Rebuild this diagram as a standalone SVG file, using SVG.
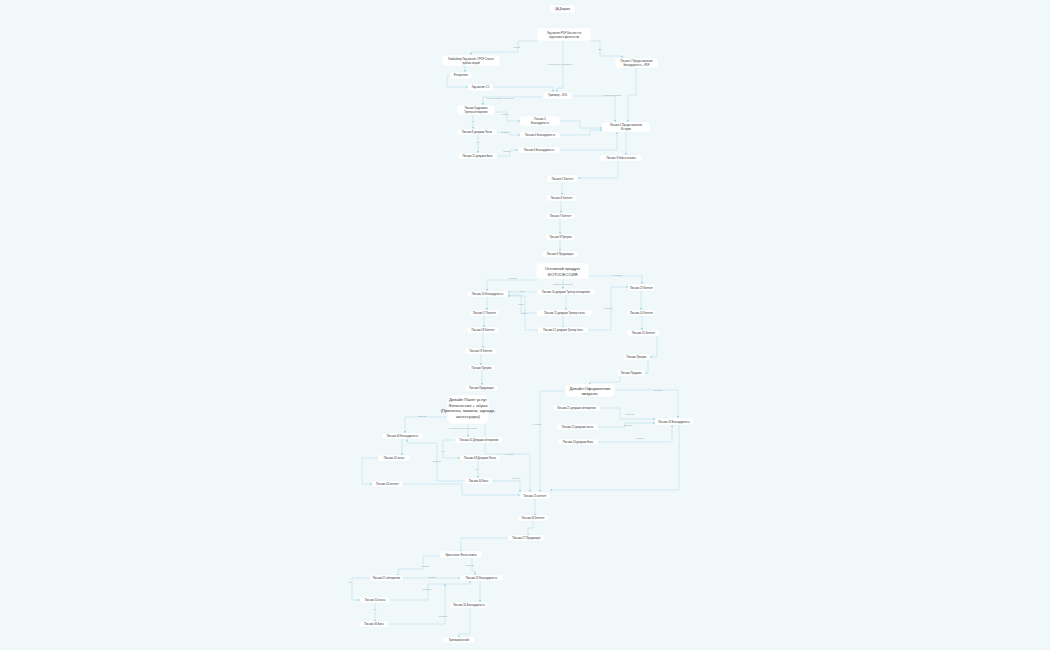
<svg xmlns="http://www.w3.org/2000/svg" width="1050" height="650" viewBox="0 0 1050 650">
<style>
.bg{fill:#f0f8fa}
.n rect{fill:#ffffff;stroke:#e6f2f6;stroke-width:0.3}
.n text{font-family:"Liberation Sans","Noto Sans",sans-serif;font-size:2.6px;fill:#333;text-anchor:middle}
.n.big text{font-size:4.2px;fill:#333}
.n.mid text{font-size:3.2px}
.e path{fill:none;stroke:#aedde9;stroke-width:0.5;marker-end:url(#a)}
.lb{font-family:"Liberation Sans","Noto Sans",sans-serif;font-size:2.1px;fill:#8a9aa0;text-anchor:middle}
</style>
<defs>
<marker id="a" viewBox="0 0 6 6" refX="5.5" refY="3" markerWidth="2.6" markerHeight="2.6" orient="auto" markerUnits="userSpaceOnUse"><path d="M0,0 L6,3 L0,6 z" fill="#9fd6e4"/></marker>
</defs>
<rect class="bg" x="0" y="0" width="1050" height="650"/>
<g id="connectors" class="e">
<path d="M538,41 H518 V52 H471 V55"/>
<path d="M591,41 H600 V56 H622 V58"/>
<path d="M563,41 V88 H557 V92"/>
<path d="M465,66 V72"/>
<path d="M450,76 H447 V87 H468"/>
<path d="M493,87 H553 V92"/>
<path d="M636,68 V95 H628 V122"/>
<path d="M572,96 H615 V122"/>
<path d="M543,97 H483 V105"/>
<path d="M495,112 H507 V121 H520"/>
<path d="M473,115 V129"/>
<path d="M497,132 H510 V135 H520"/>
<path d="M478,135 V153"/>
<path d="M497,156 H510 V150 H518"/>
<path d="M560,121 H580 V128 H602"/>
<path d="M560,135 H590 V130 H602"/>
<path d="M560,150 H617 V132"/>
<path d="M626,132 V155"/>
<path d="M618,161 V178 H578"/>
<path d="M562,182 V195"/>
<path d="M561,201 V213"/>
<path d="M560,219 V234"/>
<path d="M560,240 V251"/>
<path d="M537,280 H487 V291"/>
<path d="M563,279 V289"/>
<path d="M588,276 H642 V284"/>
<path d="M537,292 H508"/>
<path d="M537,313 H521 V295 H508"/>
<path d="M538,330 H525 V296 H508"/>
<path d="M566,295 V310"/>
<path d="M563,316 V328"/>
<path d="M588,330 H611 V287 H628"/>
<path d="M487,297 V310"/>
<path d="M484,316 V327"/>
<path d="M483,333 V348"/>
<path d="M481,354 V365"/>
<path d="M482,370 V385"/>
<path d="M641,291 V310"/>
<path d="M642,315 V330"/>
<path d="M657,336 V357 H650"/>
<path d="M648,360 V373 H645"/>
<path d="M620,376 V382 H590 V385"/>
<path d="M615,390 H678 V418"/>
<path d="M565,391 H540 V492"/>
<path d="M600,408 H620 V419 H655"/>
<path d="M598,427 H625 V423 H655"/>
<path d="M598,442 H672 V425"/>
<path d="M679,425 V490 H550"/>
<path d="M447,417 H405 V433"/>
<path d="M468,424 V437"/>
<path d="M485,424 V454 H530 V492"/>
<path d="M455,440 H443 V458 H460"/>
<path d="M478,461 V478"/>
<path d="M465,481 H437 V443 H407 V439"/>
<path d="M492,481 H520 V492"/>
<path d="M402,439 V455"/>
<path d="M378,458 H362 V484 H372"/>
<path d="M403,484 H462 V495 H520"/>
<path d="M535,499 V516"/>
<path d="M533,521 V528 H528 V536"/>
<path d="M508,538 H461 V552"/>
<path d="M440,556 H423 V569 H398 V576"/>
<path d="M472,558 V571 H475 V575"/>
<path d="M403,578 H460"/>
<path d="M370,578 H352 V600 H360"/>
<path d="M375,602 V622"/>
<path d="M390,600 H428 V584 H470 V581"/>
<path d="M388,624 H445 V584"/>
<path d="M480,581 V602"/>
<path d="M470,608 V634 H459 V638"/>
</g>
<g id="labels">
<text class="lb" x="517" y="48">Скачал</text>
<text class="lb" x="600" y="50">Да</text>
<text class="lb" x="560" y="65">Не скачал/Не подписался</text>
<text class="lb" x="500" y="99">Не было покупок, не открыл</text>
<text class="lb" x="612" y="96">Не купил трипваер</text>
<text class="lb" x="505" y="115">Открыл</text>
<text class="lb" x="473" y="122">Нет</text>
<text class="lb" x="505" y="133">Открыл</text>
<text class="lb" x="478" y="143">Нет</text>
<text class="lb" x="507" y="152">Открыл</text>
<text class="lb" x="513" y="279">Оплатил</text>
<text class="lb" x="563" y="285">Заявка не оплачена</text>
<text class="lb" x="617" y="276">Не купил</text>
<text class="lb" x="522" y="292">Купил</text>
<text class="lb" x="521" y="305">Купил</text>
<text class="lb" x="524" y="314">Купил</text>
<text class="lb" x="608" y="309">Не купил</text>
<text class="lb" x="658" y="391">Оплатил</text>
<text class="lb" x="537" y="425">Не купил</text>
<text class="lb" x="630" y="415">Оплатил</text>
<text class="lb" x="628" y="426">Оплатил</text>
<text class="lb" x="640" y="439">Оплатил</text>
<text class="lb" x="422" y="417">Оплатил</text>
<text class="lb" x="463" y="429">Не было оплаты, не оплатил</text>
<text class="lb" x="443" y="452">Нет</text>
<text class="lb" x="437" y="462">Оплатил</text>
<text class="lb" x="509" y="455">Не купил</text>
<text class="lb" x="477" y="470">Нет</text>
<text class="lb" x="516" y="479">Не купил</text>
<text class="lb" x="425" y="567">Не купил</text>
<text class="lb" x="470" y="566">Оплатил</text>
<text class="lb" x="432" y="578">Оплатил</text>
<text class="lb" x="350" y="583">Нет</text>
<text class="lb" x="427" y="590">Оплатил</text>
<text class="lb" x="375" y="610">Нет</text>
<text class="lb" x="443" y="617">Оплатил</text>
</g>
<g id="n1" class="n"><rect x="550" y="5" width="25" height="8" rx="2"/><text x="562.5" y="10">ЦА Девушки</text></g>
<g id="n2" class="n"><rect x="537" y="28" width="54" height="13" rx="3"/><text x="564" y="33.5">Лид магнит PDF Чек-лист по</text><text x="564" y="37.5">подготовке к фотосессии</text></g>
<g id="n3" class="n"><rect x="442" y="55" width="58" height="11" rx="3"/><text x="471" y="59.5">Комбайнер Лид-магнит 2 PDF Список</text><text x="471" y="63.5">нужных вещей</text></g>
<g id="n4" class="n"><rect x="450" y="72" width="22" height="7" rx="2"/><text x="461" y="76.3">Ретаргетинг</text></g>
<g id="n5" class="n"><rect x="468" y="84" width="25" height="7" rx="2"/><text x="480.5" y="88.3">Лид-магнит 2.1</text></g>
<g id="n6" class="n"><rect x="615" y="58" width="43" height="10" rx="3"/><text x="636.5" y="62">Письмо 1 Предоставление</text><text x="636.5" y="66">Благодарность + PDF</text></g>
<g id="n7" class="n"><rect x="543" y="92" width="29" height="7" rx="2"/><text x="557.5" y="96.3">Трипваер - 50%</text></g>
<g id="n8" class="n"><rect x="457" y="105" width="38" height="10" rx="3"/><text x="476" y="109">Письмо Кадровика</text><text x="476" y="113">Тренер обтворение</text></g>
<g id="n9" class="n"><rect x="520" y="116" width="40" height="10" rx="3"/><text x="540" y="120">Письмо 4</text><text x="540" y="124">Благодарность</text></g>
<g id="n10" class="n"><rect x="602" y="122" width="48" height="10" rx="3"/><text x="626" y="126">Письмо 2 Предоставление</text><text x="626" y="130">История</text></g>
<g id="n11" class="n"><rect x="457" y="129" width="40" height="6" rx="2"/><text x="477" y="133">Письмо 8 девушки Лоска</text></g>
<g id="n12" class="n"><rect x="520" y="132" width="40" height="6" rx="2"/><text x="540" y="136">Письмо 4 Благодарность</text></g>
<g id="n13" class="n"><rect x="458" y="153" width="39" height="6" rx="2"/><text x="477.5" y="157">Письмо 11 девушки Боль</text></g>
<g id="n14" class="n"><rect x="518" y="147" width="42" height="6" rx="2"/><text x="539" y="151">Письмо 6 Благодарность</text></g>
<g id="n15" class="n"><rect x="600" y="155" width="42" height="6" rx="2"/><text x="621" y="159">Письмо 3 Кейсы отзывы</text></g>
<g id="n16" class="n"><rect x="547" y="175" width="31" height="7" rx="2"/><text x="562.5" y="179.5">Письмо 5 Контент</text></g>
<g id="n17" class="n"><rect x="546" y="195" width="31" height="6" rx="2"/><text x="561.5" y="199">Письмо 6 Контент</text></g>
<g id="n18" class="n"><rect x="546" y="213" width="29" height="6" rx="2"/><text x="560.5" y="217">Письмо 7 Контент</text></g>
<g id="n19" class="n"><rect x="546" y="234" width="29" height="6" rx="2"/><text x="560.5" y="238">Письмо 8 Прогрев</text></g>
<g id="n20" class="n"><rect x="542" y="251" width="36" height="6" rx="2"/><text x="560" y="255">Письмо 9 Продающее</text></g>
<g id="n21" class="n big"><rect x="536" y="263" width="53" height="16" rx="4"/><text x="562.5" y="270">Основной продукт</text><text x="562.5" y="275.5">ФОТОСЕССИЯ</text></g>
<g id="n22" class="n"><rect x="467" y="291" width="41" height="6" rx="2"/><text x="487.5" y="295">Письмо 10 Благодарность</text></g>
<g id="n23" class="n"><rect x="537" y="289" width="58" height="6" rx="2"/><text x="566" y="293">Письмо 10 девушки Тренер обтворение</text></g>
<g id="n24" class="n"><rect x="628" y="284" width="27" height="7" rx="2"/><text x="641.5" y="288.5">Письмо 13 Контент</text></g>
<g id="n25" class="n"><rect x="470" y="310" width="29" height="6" rx="2"/><text x="484.5" y="314">Письмо 17 Контент</text></g>
<g id="n26" class="n"><rect x="537" y="310" width="55" height="6" rx="2"/><text x="564.5" y="314">Письмо 11 девушки Тренер лоска</text></g>
<g id="n27" class="n"><rect x="628" y="310" width="27" height="6" rx="2"/><text x="641.5" y="314">Письмо 14 Контент</text></g>
<g id="n28" class="n"><rect x="467" y="327" width="32" height="6" rx="2"/><text x="483" y="331">Письмо 18 Контент</text></g>
<g id="n29" class="n"><rect x="538" y="327" width="50" height="6" rx="2"/><text x="563" y="331">Письмо 12 девушки Тренер боль</text></g>
<g id="n30" class="n"><rect x="627" y="330" width="33" height="6" rx="2"/><text x="643.5" y="334">Письмо 15 Контент</text></g>
<g id="n31" class="n"><rect x="465" y="348" width="32" height="6" rx="2"/><text x="481" y="352">Письмо 19 Контент</text></g>
<g id="n32" class="n"><rect x="468" y="365" width="27" height="5" rx="2"/><text x="481.5" y="368.5">Письмо Прогрев</text></g>
<g id="n33" class="n"><rect x="465" y="385" width="33" height="6" rx="2"/><text x="481.5" y="389">Письмо Продающее</text></g>
<g id="n34" class="n"><rect x="623" y="354" width="27" height="6" rx="2"/><text x="636.5" y="358">Письмо Прогрев</text></g>
<g id="n35" class="n"><rect x="617" y="370" width="28" height="6" rx="2"/><text x="631" y="374">Письмо Продажа</text></g>
<g id="n36" class="n big"><rect x="565" y="384" width="50" height="13" rx="4"/><text x="590" y="389.5">Дизайн Оформление</text><text x="590" y="394.5">визуала.</text></g>
<g id="n37" class="n"><rect x="553" y="405" width="47" height="6" rx="2"/><text x="576.5" y="409">Письмо 21 девушки обтворение</text></g>
<g id="n38" class="n"><rect x="557" y="424" width="41" height="6" rx="2"/><text x="577.5" y="428">Письмо 22 девушки лоска</text></g>
<g id="n39" class="n"><rect x="655" y="418" width="38" height="7" rx="2"/><text x="674" y="422.5">Письмо 23 Благодарность</text></g>
<g id="n40" class="n"><rect x="558" y="439" width="40" height="6" rx="2"/><text x="578" y="443">Письмо 24 девушки Боль</text></g>
<g id="n41" class="n big"><rect x="447" y="395" width="42" height="29" rx="6"/><text x="468" y="401">Дизайн Пакет услуг</text><text x="468" y="406.5">Фотосессия + образ</text><text x="468" y="412">(Прическа, макияж, одежда,</text><text x="468" y="417.5">аксессуары)</text></g>
<g id="n42" class="n"><rect x="382" y="433" width="41" height="6" rx="2"/><text x="402.5" y="437">Письмо 40 Благодарность</text></g>
<g id="n43" class="n"><rect x="455" y="437" width="48" height="6" rx="2"/><text x="479" y="441">Письмо 41 Девушки обтворение</text></g>
<g id="n44" class="n"><rect x="378" y="455" width="32" height="6" rx="2"/><text x="394" y="459">Письмо 42 лоска</text></g>
<g id="n45" class="n"><rect x="460" y="455" width="40" height="6" rx="2"/><text x="480" y="459">Письмо 43 Девушки Лоска</text></g>
<g id="n46" class="n"><rect x="465" y="478" width="27" height="6" rx="2"/><text x="478.5" y="482">Письмо 44 Боль</text></g>
<g id="n47" class="n"><rect x="372" y="481" width="31" height="6" rx="2"/><text x="387.5" y="485">Письмо 45 контент</text></g>
<g id="n48" class="n"><rect x="520" y="492" width="30" height="7" rx="2"/><text x="535" y="496.5">Письмо 25 контент</text></g>
<g id="n49" class="n"><rect x="518" y="515" width="30" height="6" rx="2"/><text x="533" y="519">Письмо 26 Контент</text></g>
<g id="n50" class="n"><rect x="508" y="535" width="37" height="6" rx="2"/><text x="526.5" y="539">Письмо 27 Продающее</text></g>
<g id="n51" class="n mid"><rect x="440" y="551" width="42" height="7" rx="2"/><text x="461" y="555.8">Кросселл Фото-книга</text></g>
<g id="n52" class="n"><rect x="370" y="575" width="33" height="6" rx="2"/><text x="386.5" y="579">Письмо 51 обтворение</text></g>
<g id="n53" class="n"><rect x="460" y="575" width="43" height="6" rx="2"/><text x="481.5" y="579">Письмо 52 Благодарность</text></g>
<g id="n54" class="n"><rect x="360" y="597" width="30" height="6" rx="2"/><text x="375" y="601">Письмо 54 лоска</text></g>
<g id="n55" class="n"><rect x="450" y="602" width="38" height="6" rx="2"/><text x="469" y="606">Письмо 55 Благодарность</text></g>
<g id="n56" class="n"><rect x="360" y="621" width="28" height="6" rx="2"/><text x="374" y="625">Письмо 56 Боль</text></g>
<g id="n57" class="n"><rect x="443" y="637" width="32" height="6" rx="2"/><text x="459" y="641">Трипваер/апсейл</text></g>
</svg>
